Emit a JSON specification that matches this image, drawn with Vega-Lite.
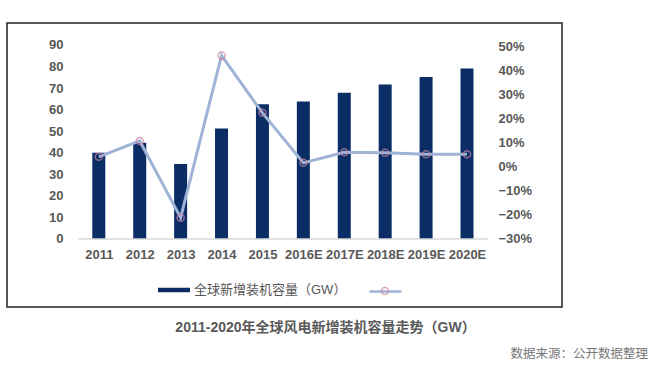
{
  "$schema": "https://vega.github.io/schema/vega-lite/v6.json",
  "width": 555,
  "height": 284,
  "autosize": {"type": "none"},
  "padding": {"left": 7, "top": 23, "right": 87, "bottom": 68},
  "background": "white",
  "config": {
    "view": {"stroke": "#222222", "strokeWidth": 1.5},
    "font": "Liberation Sans, Noto Sans CJK SC",
    "axis": {"grid": false}
  },
  "title": {
    "text": "数据来源：公开数据整理",
    "orient": "bottom",
    "frame": "group",
    "anchor": "end",
    "offset": 14,
    "dx": 86,
    "fontSize": 12.5,
    "fontWeight": "normal",
    "color": "#777777",
    "font": "Liberation Sans, Noto Sans CJK SC"
  },
  "data": {
    "values": [
      {"year": "2011", "capacity": 40.0, "growth": 0.039},
      {"year": "2012", "capacity": 44.6, "growth": 0.105},
      {"year": "2013", "capacity": 34.8, "growth": -0.214},
      {"year": "2014", "capacity": 51.2, "growth": 0.46},
      {"year": "2015", "capacity": 62.5, "growth": 0.222},
      {"year": "2016E", "capacity": 63.8, "growth": 0.014},
      {"year": "2017E", "capacity": 67.8, "growth": 0.058},
      {"year": "2018E", "capacity": 71.7, "growth": 0.056},
      {"year": "2019E", "capacity": 75.2, "growth": 0.05},
      {"year": "2020E", "capacity": 79.1, "growth": 0.05}
    ]
  },
  "encoding": {
    "x": {
      "field": "year",
      "type": "ordinal",
      "sort": null,
      "scale": {"type": "point", "padding": 0, "range": [91.8, 460]},
      "axis": {
        "orient": "bottom",
        "offset": -68,
        "domain": false,
        "ticks": false,
        "labelPadding": 9,
        "labelFontSize": 13,
        "labelFontWeight": "bold",
        "labelColor": "#595959",
        "labelAngle": 0,
        "labelFlush": false,
        "title": "2011-2020年全球风电新增装机容量走势（GW）",
        "titleX": 318,
        "titleY": 88,
        "titleAlign": "center",
        "titleBaseline": "middle",
        "titleFontSize": 14,
        "titleFontWeight": "bold",
        "titleColor": "#595959"
      }
    }
  },
  "layer": [
    {
      "layer": [
        {
          "mark": {"type": "bar", "size": 13},
          "encoding": {
            "y": {
              "field": "capacity",
              "type": "quantitative",
              "scale": {"domain": [-31.55, 100.2], "nice": false, "zero": false},
              "axis": {
                "orient": "left",
                "values": [0, 10, 20, 30, 40, 50, 60, 70, 80, 90],
                "offset": -56,
                "domain": false,
                "ticks": false,
                "labelPadding": 0,
                "labelFlush": false,
                "labelFontSize": 13,
                "labelFontWeight": "bold",
                "labelColor": "#595959",
                "title": null
              }
            },
            "y2": {"datum": 0},
            "fill": {
              "datum": "全球新增装机容量（GW）",
              "scale": {"range": ["#0b2d66"]},
              "legend": {
                "orient": "none",
                "legendX": 151,
                "legendY": 251,
                "title": null,
                "padding": 0,
                "symbolType": "M-1,-0.14H1V0.14H-1Z",
                "symbolSize": 1024,
                "symbolStrokeWidth": 0,
                "labelFontSize": 13,
                "labelColor": "#555555",
                "labelOffset": 4
              }
            }
          }
        },
        {
          "mark": {"type": "rule", "color": "#d9d9d9", "strokeWidth": 1.5, "xOffset": -20.5, "x2Offset": 20.5},
          "encoding": {
            "x2": {"field": "year"},
            "y": {
              "datum": 0,
              "type": "quantitative",
              "scale": {"domain": [-31.55, 100.2], "nice": false, "zero": false},
              "axis": {
                "orient": "left",
                "values": [0, 10, 20, 30, 40, 50, 60, 70, 80, 90],
                "offset": -56,
                "domain": false,
                "ticks": false,
                "labelPadding": 0,
                "labelFlush": false,
                "labelFontSize": 13,
                "labelFontWeight": "bold",
                "labelColor": "#595959",
                "title": null
              }
            }
          }
        }
      ]
    },
    {
      "layer": [
        {
          "mark": {"type": "line", "strokeWidth": 3},
          "encoding": {
            "y": {
              "field": "growth",
              "type": "quantitative",
              "scale": {"domain": [-0.5857, 0.5957], "nice": false, "zero": false},
              "axis": {
                "orient": "right",
                "values": [-0.3, -0.2, -0.1, 0, 0.1, 0.2, 0.3, 0.4, 0.5],
                "format": ".0%",
                "offset": -64,
                "domain": false,
                "ticks": false,
                "labelPadding": 0,
                "labelFlush": false,
                "labelFontSize": 13,
                "labelFontWeight": "bold",
                "labelColor": "#595959",
                "title": null
              }
            },
            "stroke": {
              "datum": "增长率",
              "scale": {"range": ["#9fb3d6"]},
              "legend": {
                "orient": "none",
                "legendX": 361,
                "legendY": 251,
                "title": null,
                "padding": 0,
                "symbolType": "M-1,0H1",
                "symbolSize": 1024,
                "symbolStrokeWidth": 2.5,
                "labelExpr": "''"
              }
            }
          }
        },
        {
          "mark": {"type": "point", "filled": false, "size": 50, "strokeWidth": 1.5},
          "encoding": {
            "y": {
              "field": "growth",
              "type": "quantitative",
              "scale": {"domain": [-0.5857, 0.5957], "nice": false, "zero": false},
              "axis": {
                "orient": "right",
                "values": [-0.3, -0.2, -0.1, 0, 0.1, 0.2, 0.3, 0.4, 0.5],
                "format": ".0%",
                "offset": -64,
                "domain": false,
                "ticks": false,
                "labelPadding": 0,
                "labelFlush": false,
                "labelFontSize": 13,
                "labelFontWeight": "bold",
                "labelColor": "#595959",
                "title": null
              }
            },
            "color": {
              "datum": "增长率点",
              "scale": {"range": ["#c9839f"]},
              "legend": {
                "orient": "none",
                "legendX": 373,
                "legendY": 263,
                "title": null,
                "padding": 0,
                "symbolType": "circle",
                "symbolSize": 50,
                "symbolStrokeWidth": 1.5,
                "labelExpr": "''"
              }
            }
          }
        }
      ]
    }
  ],
  "resolve": {"scale": {"y": "independent"}}
}
